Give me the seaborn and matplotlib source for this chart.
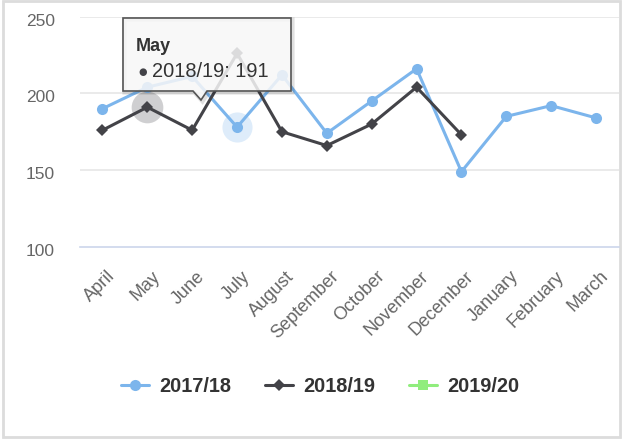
import numpy as np
import pandas as pd
import seaborn as sns
import matplotlib.pyplot as plt
import matplotlib.transforms as mtransforms
from matplotlib.lines import Line2D
from matplotlib.patches import Polygon, Rectangle

# Data
months = ['April', 'May', 'June', 'July', 'August', 'September', 'October',
          'November', 'December', 'January', 'February', 'March']
seasons = ['2017/18', '2018/19', '2019/20']
vals_1718 = [190, 204, 211, 178, 212, 174, 195, 216, 149, 185, 192, 184]
vals_1819 = [176, 191, 176, 226, 175, 166, 180, 204, 173]
vals_1920 = []
y_ticks = [100, 150, 200, 250]

colors = {'2017/18': '#7cb5ec', '2018/19': '#434348', '2019/20': '#90ed7d'}
markers = {'2017/18': 'o', '2018/19': 'D', '2019/20': 's'}
msizes = {'2017/18': 8, '2018/19': 6, '2019/20': 6.5}

# tooltip / hover state
hover_month = 'May'
hover_season = '2018/19'
hover_value = vals_1819[months.index(hover_month)]
halo_month_blue = 'July'

rows = []
for season, vals in zip(seasons, [vals_1718, vals_1819, vals_1920]):
    for m, v in zip(months, vals):
        rows.append({'month': m, 'value': v, 'season': season})
df = pd.DataFrame(rows)
df['month'] = pd.Categorical(df['month'], categories=months, ordered=True)
df['xpos'] = df['month'].cat.codes

sns.set_style('white')
plt.rcParams['font.family'] = ['Liberation Sans', 'DejaVu Sans']

W, H = 623, 441
fig = plt.figure(figsize=(W / 100, H / 100), dpi=100)


def fx(x):
    return x / W


def fy(y):
    return 1 - y / H


ax = fig.add_axes([fx(80), fy(247), fx(618.5) - fx(80), fy(16.5) - fy(247)])

# hover halos
blue_i = months.index(halo_month_blue)
ax.scatter([blue_i], [vals_1718[blue_i]], s=470, color=colors['2017/18'],
           alpha=0.25, linewidths=0, zorder=1)
hi = months.index(hover_month)
ax.scatter([hi], [hover_value], s=520, color=colors['2018/19'],
           alpha=0.25, linewidths=0, zorder=1)

for season in seasons[:2]:
    sub = df[df['season'] == season]
    sns.lineplot(data=sub, x='xpos', y='value', color=colors[season],
                 marker=markers[season], sort=False, linewidth=2.2,
                 markersize=msizes[season], markeredgewidth=0, ax=ax, zorder=3)

ax.set_xlim(-0.5, len(months) - 0.5)
ax.set_ylim(100, 250)
ax.set_xticks(range(len(months)))
ax.set_xticklabels(months)
ax.set_yticks(y_ticks)
ax.set_xlabel('')
ax.set_ylabel('')

for sp in ['top', 'right', 'left']:
    ax.spines[sp].set_visible(False)
ax.spines['bottom'].set_color('#ccd6eb')
ax.spines['bottom'].set_linewidth(1.2)
for yv in y_ticks[1:]:
    ax.axhline(yv, color='#e6e6e6', linewidth=1.2, zorder=0)

ax.tick_params(axis='x', length=0, pad=15, labelsize=13, labelcolor='#666666')
ax.tick_params(axis='y', length=0, pad=18, labelsize=12.5, labelcolor='#666666')
xoff = mtransforms.ScaledTranslation(4 / 100, 0, fig.dpi_scale_trans)
for lab in ax.get_xticklabels():
    lab.set_rotation(45)
    lab.set_ha('right')
    lab.set_va('top')
    lab.set_rotation_mode('anchor')
    lab.set_transform(lab.get_transform() + xoff)
yoff = mtransforms.ScaledTranslation(0, -3 / 100, fig.dpi_scale_trans)
for lab in ax.get_yticklabels():
    lab.set_transform(lab.get_transform() + yoff)

# legend
handles = [Line2D([], [], color=colors[s], marker=markers[s], linewidth=2.2,
                  markersize=msizes[s], markeredgewidth=0) for s in seasons]
leg = fig.legend(handles, seasons, loc='center', bbox_to_anchor=(fx(320.5), fy(386)),
                 ncol=3, frameon=False, handlelength=1.4, handletextpad=0.5,
                 columnspacing=1.7, prop={'weight': 'bold', 'size': 14.4})
for t in leg.get_texts():
    t.set_color('#333333')

# tooltip
box = [(123, 18), (291, 18), (291, 91), (207, 91), (201, 100), (193, 91), (123, 91)]
shadow = Polygon([(fx(x + 1.5), fy(y + 1.5)) for x, y in box], closed=True,
                 transform=fig.transFigure, facecolor='none',
                 edgecolor=(0, 0, 0, 0.12), linewidth=3, zorder=9)
tip = Polygon([(fx(x), fy(y)) for x, y in box], closed=True,
              transform=fig.transFigure, facecolor=(0.97, 0.97, 0.97, 0.85),
              edgecolor='#555555', linewidth=1.2, zorder=10)
fig.add_artist(shadow)
fig.add_artist(tip)
fig.text(fx(136), fy(51), hover_month, fontsize=13, fontweight='bold',
         color='#333333', zorder=11)
fig.text(fx(138), fy(75), '\u25cf', fontsize=7, color=colors[hover_season],
         family=['DejaVu Sans'], zorder=11)
fig.text(fx(152), fy(77), f'{hover_season}: {hover_value}', fontsize=14.4,
         color='#333333', zorder=11)

# outer frame
fig.add_artist(Rectangle((fx(3), fy(437)), fx(620) - fx(3), fy(0.5) - fy(437),
                         transform=fig.transFigure, facecolor='none',
                         edgecolor='#dcdcdc', linewidth=2, zorder=0))

fig.savefig('out.png', dpi=100)
